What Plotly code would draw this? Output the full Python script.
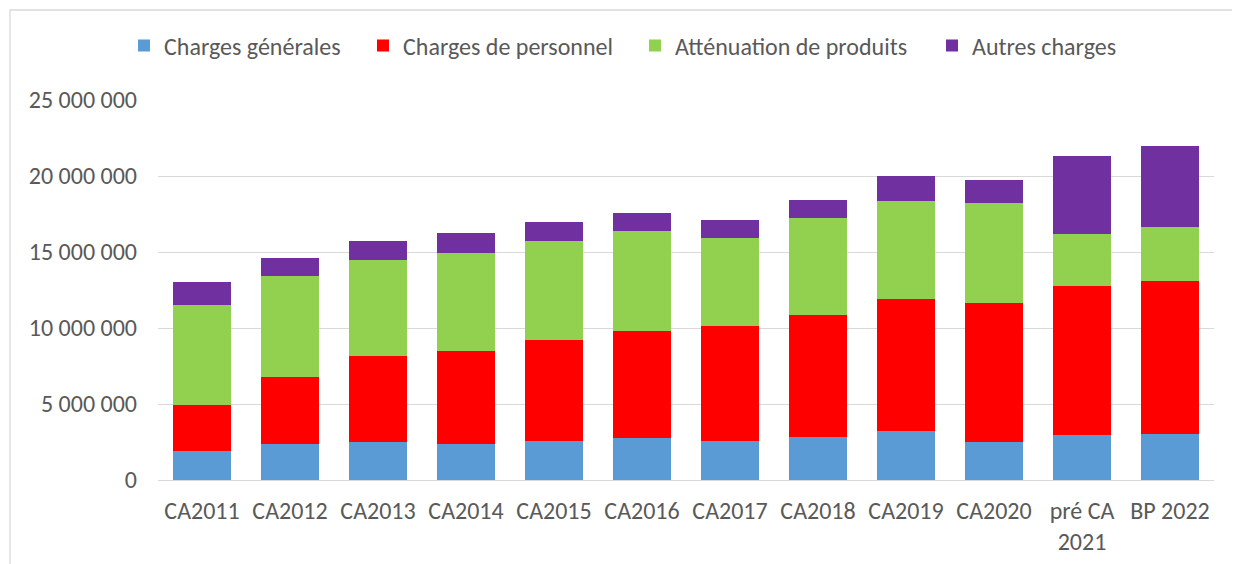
import plotly.graph_objects as go

categories = ["CA2011", "CA2012", "CA2013", "CA2014", "CA2015", "CA2016",
              "CA2017", "CA2018", "CA2019", "CA2020", "pré CA 2021", "BP 2022"]
tick_labels = ["CA2011", "CA2012", "CA2013", "CA2014", "CA2015", "CA2016",
               "CA2017", "CA2018", "CA2019", "CA2020", "pré CA<br>2021", "BP 2022"]

charges_generales = [1910000, 2370000, 2500000, 2370000, 2540000, 2760000,
                     2570000, 2850000, 3220000, 2520000, 2980000, 3050000]
charges_personnel = [3020000, 4430000, 5660000, 6100000, 6670000, 7040000,
                     7580000, 8030000, 8710000, 9100000, 9800000, 10060000]
attenuation_produits = [6580000, 6620000, 6330000, 6480000, 6490000, 6580000,
                        5770000, 6360000, 6450000, 6600000, 3400000, 3530000]
autres_charges = [1520000, 1160000, 1250000, 1300000, 1270000, 1190000,
                  1190000, 1180000, 1590000, 1520000, 5120000, 5350000]

y_ticks = [0, 5000000, 10000000, 15000000, 20000000, 25000000]
y_tick_labels = ["0", "5 000 000", "10 000 000", "15 000 000", "20 000 000", "25 000 000"]

series = [
    ("Charges générales", charges_generales, "#5B9BD5", "legend"),
    ("Charges de personnel", charges_personnel, "#FF0000", "legend2"),
    ("Atténuation de produits", attenuation_produits, "#92D050", "legend3"),
    ("Autres charges", autres_charges, "#7030A0", "legend4"),
]

FONT = "Calibri, Carlito, Lato, sans-serif"
TXT = "#595959"

fig = go.Figure()
for name, vals, color, leg in series:
    fig.add_trace(go.Bar(x=categories, y=vals, name=name, marker_color=color,
                         marker_line_width=0, legend=leg))

# page has an 8px body margin; figure sized so it fills the window
OFF = 8
W, H = 1240 - OFF, 564 - OFF
ml, mr, mt, mb = 150, 26, 92, 84
pw = W - ml - mr
ph = H - mt - mb

def px_x(p):  # page pixel -> paper
    return (p - OFF - ml) / pw

def px_y(p):
    return (H - mb - (p - OFF)) / ph

leg_text_x = [164, 403, 675, 972]
leg_common = dict(orientation="h", yanchor="middle", xanchor="left",
                  font=dict(family=FONT, size=24, color=TXT),
                  bgcolor="rgba(0,0,0,0)", borderwidth=0)

layout_legends = {}
for i, key in enumerate(["legend", "legend2", "legend3", "legend4"]):
    layout_legends[key] = dict(x=px_x(leg_text_x[i] - 40), y=px_y(46), **leg_common)

fig.update_layout(
    width=W, height=H,
    margin=dict(l=ml, r=mr, t=mt, b=mb, autoexpand=False),
    paper_bgcolor="white", plot_bgcolor="white",
    barmode="stack", bargap=0.35,
    font=dict(family=FONT, size=24, color=TXT),
    showlegend=True,
    **layout_legends,
    xaxis=dict(type="category", categoryorder="array", categoryarray=categories,
               tickmode="array", tickvals=categories, ticktext=tick_labels,
               showgrid=False, showline=False, ticks="",
               ticklabelstandoff=14,
               tickfont=dict(family=FONT, size=24, color=TXT)),
    yaxis=dict(range=[0, 25000000], tickmode="array", tickvals=y_ticks,
               ticktext=y_tick_labels, showgrid=True, gridcolor="#D9D9D9",
               gridwidth=1.3, zeroline=True, zerolinecolor="#D9D9D9",
               zerolinewidth=1.3, showline=False, ticks="",
               ticklabelstandoff=20,
               tickfont=dict(family=FONT, size=24, color=TXT)),
    shapes=[dict(type="rect", xref="paper", yref="paper",
                 x0=px_x(10), x1=px_x(1300), y0=px_y(620), y1=px_y(10),
                 line=dict(color="#D9D9D9", width=1.3), fillcolor="rgba(0,0,0,0)",
                 layer="below")],
)

fig.write_html("out.html")
